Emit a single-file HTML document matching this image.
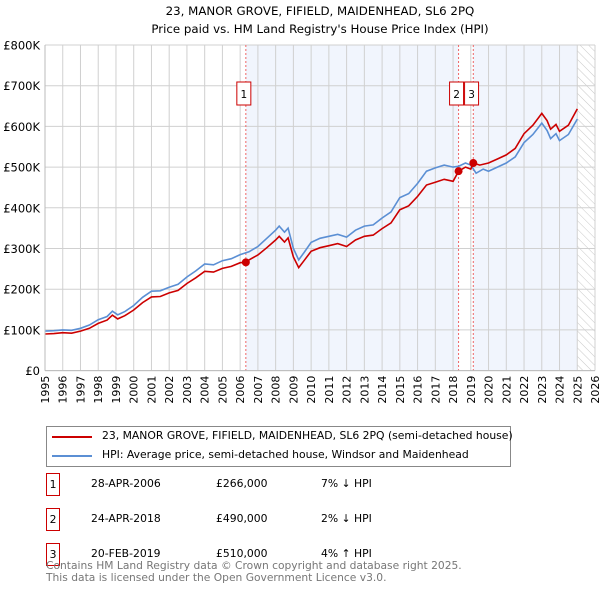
<!DOCTYPE html>
<html><head><meta charset="utf-8"><style>
body{margin:0;background:#fff;font-family:"DejaVu Sans","Liberation Sans",sans-serif;}
#wrap{position:relative;width:600px;height:590px;overflow:hidden;}
.t{position:absolute;font-size:11px;color:#000;white-space:nowrap;}
</style></head><body>
<div id="wrap">
<svg id="chart" width="600" height="420" style="position:absolute;left:0;top:0">
<text x="320" y="15" text-anchor="middle" font-size="11.8" font-family="DejaVu Sans,sans-serif">23, MANOR GROVE, FIFIELD, MAIDENHEAD, SL6 2PQ</text>
<text x="320" y="33" text-anchor="middle" font-size="11.8" font-family="DejaVu Sans,sans-serif">Price paid vs. HM Land Registry's House Price Index (HPI)</text>
<defs><pattern id="hatch" width="6" height="6" patternUnits="userSpaceOnUse" patternTransform="rotate(-45)"><line x1="0" y1="0" x2="0" y2="6" stroke="#bbb" stroke-width="0.8"/></pattern></defs>
<g id="bg"></g><g id="grid"></g><g id="lines"></g><g id="marks"></g><g id="axes"></g>
</svg>
<div style="position:absolute;left:46px;top:426px;width:465px;height:41px;border:1px solid #888;box-sizing:border-box;">
<div style="position:absolute;left:5px;top:9px;width:40px;height:2px;background:#cc0000"></div>
<div class="t" style="left:55px;top:2px;font-size:10.8px">23, MANOR GROVE, FIFIELD, MAIDENHEAD, SL6 2PQ (semi-detached house)</div>
<div style="position:absolute;left:5px;top:28px;width:40px;height:2px;background:#5b8fd4"></div>
<div class="t" style="left:55px;top:21px;font-size:10.8px">HPI: Average price, semi-detached house, Windsor and Maidenhead</div>
</div>
<div id="tbl"></div>
<div class="t" style="left:46px;top:560px;color:#777;font-size:10.7px;line-height:11.5px">Contains HM Land Registry data © Crown copyright and database right 2025.<br>This data is licensed under the Open Government Licence v3.0.</div>
</div>
<script>
const years=[1995,1996,1997,1998,1999,2000,2001,2002,2003,2004,2005,2006,2007,2008,2009,2010,2011,2012,2013,2014,2015,2016,2017,2018,2019,2020,2021,2022,2023,2024,2025,2026];
const yTicks=[0,100,200,300,400,500,600,700,800];
const yTickLabels=["£0","£100K","£200K","£300K","£400K","£500K","£600K","£700K","£800K"];
const hpiT=[1995,1995.5,1996,1996.5,1997,1997.5,1998,1998.5,1998.8,1999.1,1999.5,2000,2000.5,2001,2001.5,2002,2002.5,2003,2003.5,2004,2004.5,2005,2005.5,2006,2006.5,2007,2007.5,2008,2008.2,2008.5,2008.7,2009,2009.3,2009.6,2010,2010.5,2011,2011.5,2012,2012.5,2013,2013.5,2014,2014.5,2015,2015.5,2016,2016.5,2017,2017.5,2018,2018.3,2018.7,2019,2019.3,2019.7,2020,2020.5,2021,2021.5,2022,2022.5,2023,2023.3,2023.5,2023.8,2024,2024.5,2025];
const hpiV=[97,98,100,99,104,112,125,133,146,137,145,160,180,195,196,205,212,230,245,262,260,270,275,285,292,305,325,345,355,340,350,300,272,290,315,325,330,335,328,345,355,358,375,390,425,435,460,490,498,505,500,502,510,505,485,495,490,500,510,525,560,580,608,590,570,582,565,580,618];
const redT=[1995,1995.5,1996,1996.5,1997,1997.5,1998,1998.5,1998.8,1999.1,1999.5,2000,2000.5,2001,2001.5,2002,2002.5,2003,2003.5,2004,2004.5,2005,2005.5,2006,2006.32,2006.5,2007,2007.5,2008,2008.2,2008.5,2008.7,2009,2009.3,2009.6,2010,2010.5,2011,2011.5,2012,2012.5,2013,2013.5,2014,2014.5,2015,2015.5,2016,2016.5,2017,2017.5,2018,2018.31,2018.7,2019,2019.14,2019.5,2020,2020.5,2021,2021.5,2022,2022.5,2023,2023.3,2023.5,2023.8,2024,2024.5,2025];
const redV=[90,91,93,92,97,104,116,124,136,127,135,149,167,181,182,191,197,214,228,244,242,251,256,265,266,272,284,302,321,330,316,326,279,253,270,293,302,307,312,305,321,330,333,349,363,395,405,428,456,463,470,465,490,500,495,510,505,510,520,530,546,582,603,632,614,593,605,588,603,643];
const saleT=[2006.32,2018.31,2019.14];
const saleV=[266,490,510];
const saleLabels=["1","2","3"];
const saleDates=["28-APR-2006","24-APR-2018","20-FEB-2019"];
const salePrices=["£266,000","£490,000","£510,000"];
const saleHpi=["7% ↓ HPI","2% ↓ HPI","4% ↑ HPI"];

const X0=45,X1=595,Y0=370.6,Y1=45;
const x=t=>X0+(t-1995)*(X1-X0)/31;
const y=v=>Y0-v*(Y0-Y1)/800;
const NS="http://www.w3.org/2000/svg";
function mk(tag,attrs,parent){const e=document.createElementNS(NS,tag);for(const k in attrs)e.setAttribute(k,attrs[k]);document.getElementById(parent).appendChild(e);return e;}
let e;
e=mk('rect',{x:x(saleT[0]),y:Y1,width:x(saleT[1])-x(saleT[0]),height:Y0-Y1,fill:'#eef3fc',opacity:0.8},'bg');

e=mk('rect',{x:x(saleT[2]),y:Y1,width:x(2025)-x(saleT[2]),height:Y0-Y1,fill:'#eef3fc',opacity:0.8},'bg');

e=mk('rect',{x:x(2025),y:Y1,width:X1-x(2025),height:Y0-Y1,fill:'url(#hatch)'},'bg');

years.forEach(yr=>{e=mk('line',{x1:x(yr),x2:x(yr),y1:Y1,y2:Y0,stroke:'#d0d0d0','stroke-width':1},'grid');

e=mk('text',{x:0,y:0,transform:`translate(${x(yr)+4},${Y0+33}) rotate(-90)`,'font-size':11,'font-family':'DejaVu Sans,sans-serif'},'axes');e.textContent=yr;
});
yTicks.forEach((v,i)=>{e=mk('line',{x1:X0,x2:X1,y1:y(v),y2:y(v),stroke:'#d0d0d0','stroke-width':1},'grid');

e=mk('text',{x:40,y:y(v)+4.5,'text-anchor':'end','font-size':11.5,'font-family':'DejaVu Sans,sans-serif'},'axes');e.textContent=yTickLabels[i];
});
e=mk('line',{x1:X0,x2:X0,y1:Y1,y2:Y0,stroke:'#bbb'},'axes');
e=mk('line',{x1:X0,x2:X1,y1:Y0,y2:Y0,stroke:'#bbb'},'axes');
saleT.forEach(t=>{e=mk('line',{x1:x(t),x2:x(t),y1:Y1,y2:Y0,stroke:'#e66','stroke-width':1,'stroke-dasharray':'2,2'},'grid');
});
const pts=(T,V)=>T.map((t,i)=>x(t).toFixed(1)+','+y(V[i]).toFixed(1)).join(' ');
e=mk('polyline',{points:pts(hpiT,hpiV),fill:'none',stroke:'#5b8fd4','stroke-width':1.6},'lines');

e=mk('polyline',{points:pts(redT,redV),fill:'none',stroke:'#cc0000','stroke-width':1.6},'lines');

saleT.forEach((t,i)=>{e=mk('circle',{cx:x(t),cy:y(saleV[i]),r:4,fill:'#cc0000'},'marks');

const rx=i===2?x(saleT[1])+6:x(t)-9;
e=mk('rect',{x:rx,y:82,width:14,height:23,fill:'#fff',stroke:'#cc0000','stroke-width':1},'marks');

e=mk('text',{x:rx+7,y:98,'text-anchor':'middle','font-size':10.5,'font-family':'DejaVu Sans,sans-serif'},'marks');e.textContent=saleLabels[i];
});
const tbl=document.getElementById('tbl');
saleLabels.forEach((l,i)=>{const top=473+i*35;
const row=document.createElement('div');


row.innerHTML=`<div style="position:absolute;left:46px;top:${top}px;width:14px;height:23px;border:1px solid #cc0000;box-sizing:border-box;font-size:10.8px;text-align:center;line-height:21px">${l}</div>
<div class="t" style="left:91px;top:${top+4}px;font-size:10.8px">${saleDates[i]}</div>
<div class="t" style="left:216px;top:${top+4}px;font-size:10.8px">${salePrices[i]}</div>
<div class="t" style="left:321px;top:${top+4}px;font-size:10.8px">${saleHpi[i]}</div>`;
tbl.appendChild(row);});
</script>
</body></html>
